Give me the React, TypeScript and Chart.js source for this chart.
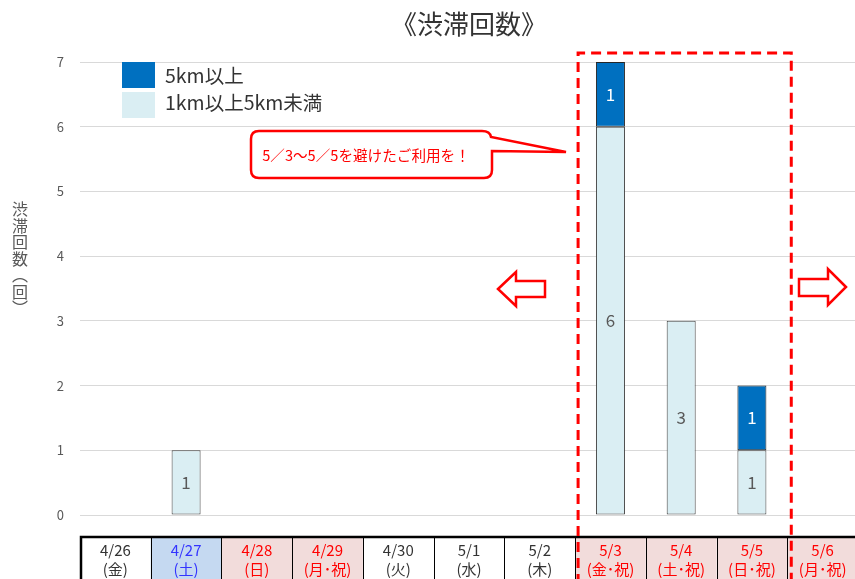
import React, { useEffect, useRef } from "react";
import { Chart, registerables } from "chart.js";

Chart.register(...registerables);

const dates = ["4/26", "4/27", "4/28", "4/29", "4/30", "5/1", "5/2", "5/3", "5/4", "5/5", "5/6"];
const weekdays = ["(金)", "(土)", "(日)", "(月･祝)", "(火)", "(水)", "(木)", "(金･祝)", "(土･祝)", "(日･祝)", "(月･祝)"];
// 0 = weekday, 1 = saturday, 2 = holiday
const dayTypes = [0, 1, 2, 2, 0, 0, 0, 2, 2, 2, 2];
const shortJams = [0, 1, 0, 0, 0, 0, 0, 6, 3, 1, 0];
const longJams = [0, 0, 0, 0, 0, 0, 0, 1, 0, 1, 0];
const yTicks = [0, 1, 2, 3, 4, 5, 6, 7];
const seriesNames = ["5km以上", "1km以上5km未満"];
const titleText = "《渋滞回数》";
const yTitleChars = ["渋", "滞", "回", "数", "︵", "回", "︶"];
const calloutText = "5／3〜5／5を避けたご利用を！";
const peakStart = 7;
const peakEnd = 9;

const FONT = '"Noto Sans CJK JP", "Noto Sans", sans-serif';
const DARK = "#0070c0";
const LIGHT = "#daeef3";

const overlayPlugin = {
  id: "overlay",
  afterDatasetsDraw(chart: any) {
    const ctx = chart.ctx;
    ctx.save();
    ctx.textAlign = "center";
    ctx.textBaseline = "middle";
    ctx.font = `17px ${FONT}`;
    chart.data.datasets.forEach((ds: any, di: number) => {
      const meta = chart.getDatasetMeta(di);
      meta.data.forEach((bar: any, i: number) => {
        const v = ds.data[i];
        if (!v) return;
        ctx.fillStyle = di === 0 ? "#595959" : "#ffffff";
        ctx.fillText(String(v), bar.x, (bar.y + bar.base) / 2);
      });
    });
    ctx.restore();
  },
  afterDraw(chart: any) {
    const ctx = chart.ctx;
    const xs = chart.scales.x;
    const ys = chart.scales.y;
    const area = chart.chartArea;
    const H = chart.height;
    const colW = (area.right - area.left) / dates.length;
    const edge = (k: number) => area.left + k * colW;
    ctx.save();

    // title
    ctx.fillStyle = "#333333";
    ctx.font = `26px ${FONT}`;
    ctx.textAlign = "center";
    ctx.textBaseline = "middle";
    ctx.fillText(titleText, (area.left + area.right) / 2, 24);

    // y title (vertical)
    ctx.fillStyle = "#595959";
    ctx.font = `16px ${FONT}`;
    yTitleChars.forEach((c, i) => {
      ctx.fillText(c, 20, 209 + i * 16.5);
    });

    // table
    const tTop = 537;
    dates.forEach((d, i) => {
      const x0 = edge(i);
      const t = dayTypes[i];
      if (t === 1) ctx.fillStyle = "#c5d9f1";
      else if (t === 2) ctx.fillStyle = "#f2dcdb";
      else ctx.fillStyle = "#ffffff";
      ctx.fillRect(x0, tTop, colW, H - tTop);
      const cx = xs.getPixelForValue(i);
      ctx.fillStyle = t === 1 ? "#3333ff" : t === 2 ? "#ff0000" : "#333333";
      ctx.font = `15px ${FONT}`;
      ctx.fillText(d, cx, 550);
      ctx.fillText(weekdays[i], cx, 569);
    });
    ctx.strokeStyle = "#000000";
    ctx.lineWidth = 1;
    for (let k = 1; k <= dates.length; k++) {
      const x = Math.round(edge(k)) + 0.5;
      ctx.beginPath();
      ctx.moveTo(x, tTop);
      ctx.lineTo(x, H);
      ctx.stroke();
    }
    ctx.lineWidth = 2.5;
    ctx.beginPath();
    ctx.moveTo(area.left + 1, H);
    ctx.lineTo(area.left + 1, tTop);
    ctx.lineTo(area.right, tTop);
    ctx.stroke();

    // dashed rectangle around peak period
    const rl = edge(peakStart) + 3;
    const rr = edge(peakEnd + 1) + 4;
    const rt = ys.getPixelForValue(7) - 9;
    ctx.strokeStyle = "#ff0000";
    ctx.lineWidth = 3;
    ctx.setLineDash([10, 6]);
    ctx.beginPath();
    ctx.moveTo(rl, H + 5);
    ctx.lineTo(rl, rt);
    ctx.lineTo(rr, rt);
    ctx.lineTo(rr, H + 5);
    ctx.stroke();
    ctx.setLineDash([]);

    // arrows
    ctx.lineWidth = 2.5;
    ctx.fillStyle = "#ffffff";
    ctx.beginPath();
    ctx.moveTo(498, 289);
    ctx.lineTo(516, 272);
    ctx.lineTo(516, 281);
    ctx.lineTo(545, 281);
    ctx.lineTo(545, 297);
    ctx.lineTo(516, 297);
    ctx.lineTo(516, 306);
    ctx.closePath();
    ctx.fill();
    ctx.stroke();

    ctx.beginPath();
    ctx.moveTo(846, 287);
    ctx.lineTo(828, 269);
    ctx.lineTo(828, 279);
    ctx.lineTo(799, 279);
    ctx.lineTo(799, 296);
    ctx.lineTo(828, 296);
    ctx.lineTo(828, 305);
    ctx.closePath();
    ctx.fill();
    ctx.stroke();

    // callout
    const bx = 251, by = 131, bw = 241, bh = 47, r = 8;
    ctx.beginPath();
    ctx.moveTo(bx + r, by);
    ctx.lineTo(bx + bw - r - 2, by);
    ctx.quadraticCurveTo(bx + bw - 2, by, bx + bw - 1, by + 6);
    ctx.lineTo(566, 152);
    ctx.lineTo(bx + bw, by + 20);
    ctx.lineTo(bx + bw, by + bh - r);
    ctx.quadraticCurveTo(bx + bw, by + bh, bx + bw - r, by + bh);
    ctx.lineTo(bx + r, by + bh);
    ctx.quadraticCurveTo(bx, by + bh, bx, by + bh - r);
    ctx.lineTo(bx, by + r);
    ctx.quadraticCurveTo(bx, by, bx + r, by);
    ctx.closePath();
    ctx.fillStyle = "#ffffff";
    ctx.fill();
    ctx.strokeStyle = "#ff0000";
    ctx.lineWidth = 2.5;
    ctx.stroke();
    ctx.fillStyle = "#ff0000";
    ctx.font = `14.6px ${FONT}`;
    ctx.fillText(calloutText, 366, 155);

    // legend
    ctx.fillStyle = DARK;
    ctx.fillRect(122, 62, 33, 26);
    ctx.fillStyle = LIGHT;
    ctx.fillRect(122, 92, 33, 26);
    ctx.fillStyle = "#333333";
    ctx.font = `19.5px ${FONT}`;
    ctx.textAlign = "left";
    ctx.fillText(seriesNames[0], 165, 76);
    ctx.fillText(seriesNames[1], 165, 103);

    ctx.restore();
  },
};

export default function App() {
  const ref = useRef<HTMLCanvasElement>(null);
  useEffect(() => {
    if (!ref.current) return;
    const chart = new Chart(ref.current, {
      type: "bar",
      data: {
        labels: dates,
        datasets: [
          {
            label: seriesNames[1],
            data: shortJams,
            backgroundColor: LIGHT,
            borderColor: "#404040",
            borderWidth: 1,
            borderSkipped: false,
          },
          {
            label: seriesNames[0],
            data: longJams,
            backgroundColor: DARK,
            borderColor: "#262626",
            borderWidth: 1,
            borderSkipped: false,
          },
        ],
      },
      options: {
        responsive: false,
        animation: false,
        devicePixelRatio: 1,
        layout: { padding: { top: 62, bottom: 64, left: 0, right: 0 } },
        datasets: { bar: { barPercentage: 0.41, categoryPercentage: 1 } },
        plugins: {
          legend: { display: false },
          title: { display: false },
          tooltip: { enabled: false },
        },
        scales: {
          x: { stacked: true, display: false },
          y: {
            stacked: true,
            min: 0,
            max: 7,
            afterFit: (s: any) => {
              s.width = 80;
            },
            afterBuildTicks: (s: any) => {
              s.ticks = yTicks.map((v) => ({ value: v }));
            },
            border: { display: false },
            grid: { color: "#d9d9d9", drawTicks: false, lineWidth: 1 },
            ticks: {
              color: "#595959",
              font: { size: 13, family: FONT },
              padding: 16,
            },
          },
        },
      },
      plugins: [overlayPlugin],
    });
    return () => chart.destroy();
  }, []);
  return (
    <div style={{ position: "fixed", left: 0, top: 0, width: 855, height: 579, overflow: "hidden", background: "#fff" }}>
      <canvas ref={ref} width={858} height={579} style={{ width: 858, height: 579, display: "block" }} />
    </div>
  );
}
